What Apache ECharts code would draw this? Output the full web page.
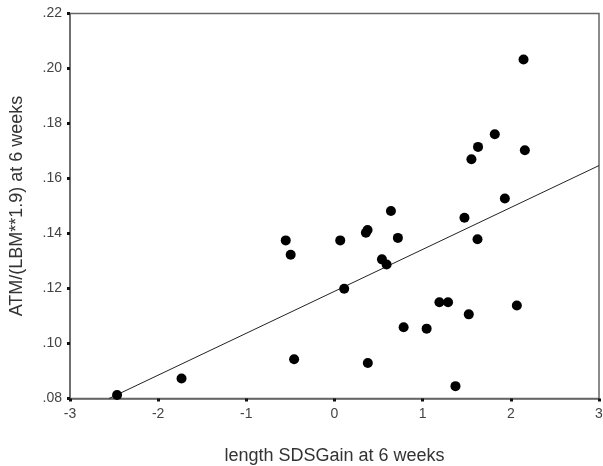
<!DOCTYPE html>
<html><head><meta charset="utf-8">
<script src="https://cdn.jsdelivr.net/npm/echarts@6/dist/echarts.min.js"></script>
<style>html,body{margin:0;padding:0;background:#fff}#c{width:603px;height:466px}</style>
</head><body><div id="c"></div>
<script>
const sdsGain = [-2.466,-1.735,-0.553,-0.497,-0.458,0.065,0.110,0.356,0.375,0.378,0.640,0.538,0.591,0.719,0.784,1.045,1.190,1.288,1.372,1.474,1.523,1.553,1.622,1.628,1.818,1.932,2.068,2.144,2.159];
const atmRatio = [0.0813,0.0873,0.1375,0.1323,0.0943,0.1375,0.1199,0.1403,0.1413,0.0929,0.1482,0.1306,0.1287,0.1384,0.1059,0.1054,0.1150,0.1150,0.0845,0.1457,0.1106,0.1670,0.1379,0.1715,0.1761,0.1527,0.1138,0.2033,0.1703];
const fitX = [-2.557, 3];
const fitY = [0.08, 0.1647];
const xTicks = [-3,-2,-1,0,1,2,3];
const yTicks = [0.08,0.10,0.12,0.14,0.16,0.18,0.20,0.22];

const pts = sdsGain.map((x,i)=>[x, atmRatio[i]]);
const fit = fitX.map((x,i)=>[x, fitY[i]]);
const chart = echarts.init(document.getElementById('c'));
const font = 'Liberation Sans, Arial, sans-serif';
chart.setOption({
  animation:false,
  grid:{left:70,right:4,top:13.5,bottom:67.5,containLabel:false,outerBoundsMode:'none',
    show:true,borderColor:'#666',borderWidth:1.5,backgroundColor:'#fff'},
  xAxis:{type:'value',min:xTicks[0],max:xTicks[xTicks.length-1],interval:1,
    name:'length SDSGain at 6 weeks',nameLocation:'middle',nameGap:49,
    nameTextStyle:{fontFamily:font,fontSize:18,color:'#333'},
    axisLine:{show:true,onZero:false,lineStyle:{color:'#666',width:1.5}},
    axisTick:{show:true,length:3,lineStyle:{color:'#111',width:3}},
    axisLabel:{fontFamily:font,fontSize:14,color:'#444',margin:9},
    splitLine:{show:false}},
  yAxis:{type:'value',min:yTicks[0],max:yTicks[yTicks.length-1],interval:0.02,
    name:'ATM/(LBM**1.9) at 6 weeks',nameLocation:'middle',nameGap:44,
    nameTextStyle:{fontFamily:font,fontSize:18,color:'#333'},
    axisLine:{show:true,onZero:false,lineStyle:{color:'#666',width:1.5}},
    axisTick:{show:true,length:3,lineStyle:{color:'#111',width:3}},
    axisLabel:{fontFamily:font,fontSize:14,color:'#444',margin:8,
      formatter:v=>v.toFixed(2).replace(/^0/,'')},
    splitLine:{show:false}},
  series:[
    {type:'line',data:fit,symbol:'none',lineStyle:{color:'#222',width:1},z:1},
    {type:'scatter',data:pts,symbol:'circle',symbolSize:10,itemStyle:{color:'#000',opacity:1},z:2}
  ]
});
</script></body></html>
